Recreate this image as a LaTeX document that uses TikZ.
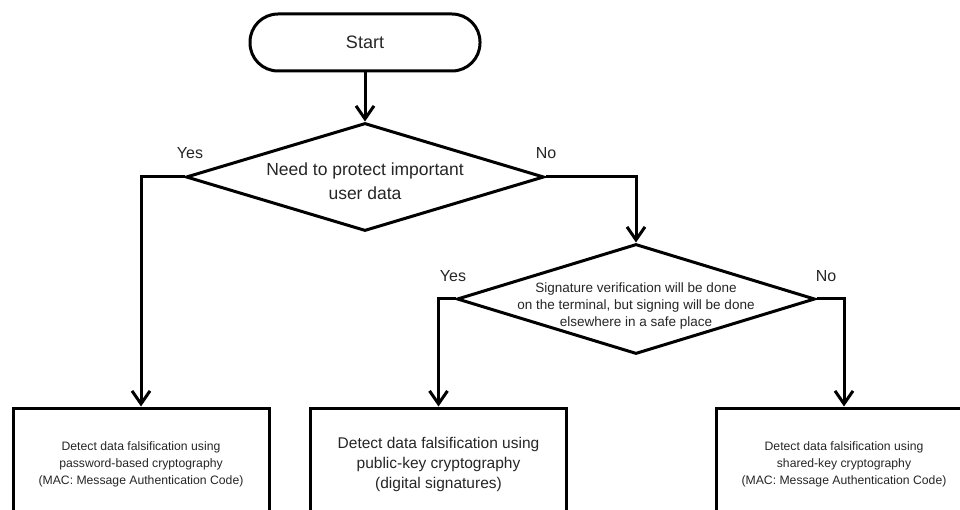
\documentclass[tikz,border=0pt]{standalone}
\usepackage{fontspec}
\setmainfont{Liberation Sans}
\usetikzlibrary{shapes.geometric,arrows.meta}
\begin{document}
\begin{tikzpicture}[x=1pt,y=-1pt,
  every node/.style={text=black!85},
  flow/.style={line width=3pt,-{Straight Barb[length=13pt,width=18pt]}},
  startbox/.style={draw,line width=3pt,rectangle,rounded corners=28pt,minimum width=230pt,minimum height=57pt,inner sep=0pt,font=\fontsize{18}{22}\selectfont},
  dia/.style={draw,line width=3pt,diamond,minimum width=358pt,minimum height=108pt,inner sep=0pt},
  diatext/.style={align=center,inner sep=0pt},
  procbox/.style={draw,line width=3pt,rectangle,minimum width=256pt,minimum height=112pt,align=center,inner sep=0pt},
  smalltext/.style={font=\fontsize{12.2}{17}\selectfont},
  bigtext/.style={font=\fontsize{15.5}{20}\selectfont},
  lab/.style={font=\fontsize{16}{19}\selectfont,inner sep=0pt}
]
\useasboundingbox (0,0) rectangle (960,510);
\clip (0,0) rectangle (960,510);
\fill[white] (0,0) rectangle (960,510);

\node[startbox] (start) at (365,42.5) {Start};

\node[dia] (d1) at (365,177) {};
\node[diatext,font=\fontsize{17.5}{23.5}\selectfont,yshift=-4pt] (d1t) at (d1.center) {Need to protect important\\user data};

\node[dia,minimum height=110pt] (d2) at (636,299) {};
\node[diatext,font=\fontsize{13.5}{17.3}\selectfont,yshift=-7pt] (d2t) at (d2.center) {Signature verification will be done\\on the terminal, but signing will be done\\elsewhere in a safe place};

\node[procbox,smalltext] (b1) at (141,464) {Detect data falsification using\\password-based cryptography\\(MAC: Message Authentication Code)};
\node[procbox,bigtext] (b2) at (438.5,464) {Detect data falsification using\\public-key cryptography\\(digital signatures)};
\node[procbox,smalltext] (b3) at (844,464) {Detect data falsification using\\shared-key cryptography\\(MAC: Message Authentication Code)};

\node[lab] (y1) at (190,153) {Yes};
\node[lab] (n1) at (546,153) {No};
\node[lab] (y2) at (453,276) {Yes};
\node[lab] (n2) at (826,276) {No};

\draw[flow] (start.south) -- (d1.north);
\draw[flow] (d1.west) -| (b1.north);
\draw[flow] (d1.east) -| (d2.north);
\draw[flow] (d2.west) -| (b2.north);
\draw[flow] (d2.east) -| (b3.north);
\end{tikzpicture}
\end{document}
